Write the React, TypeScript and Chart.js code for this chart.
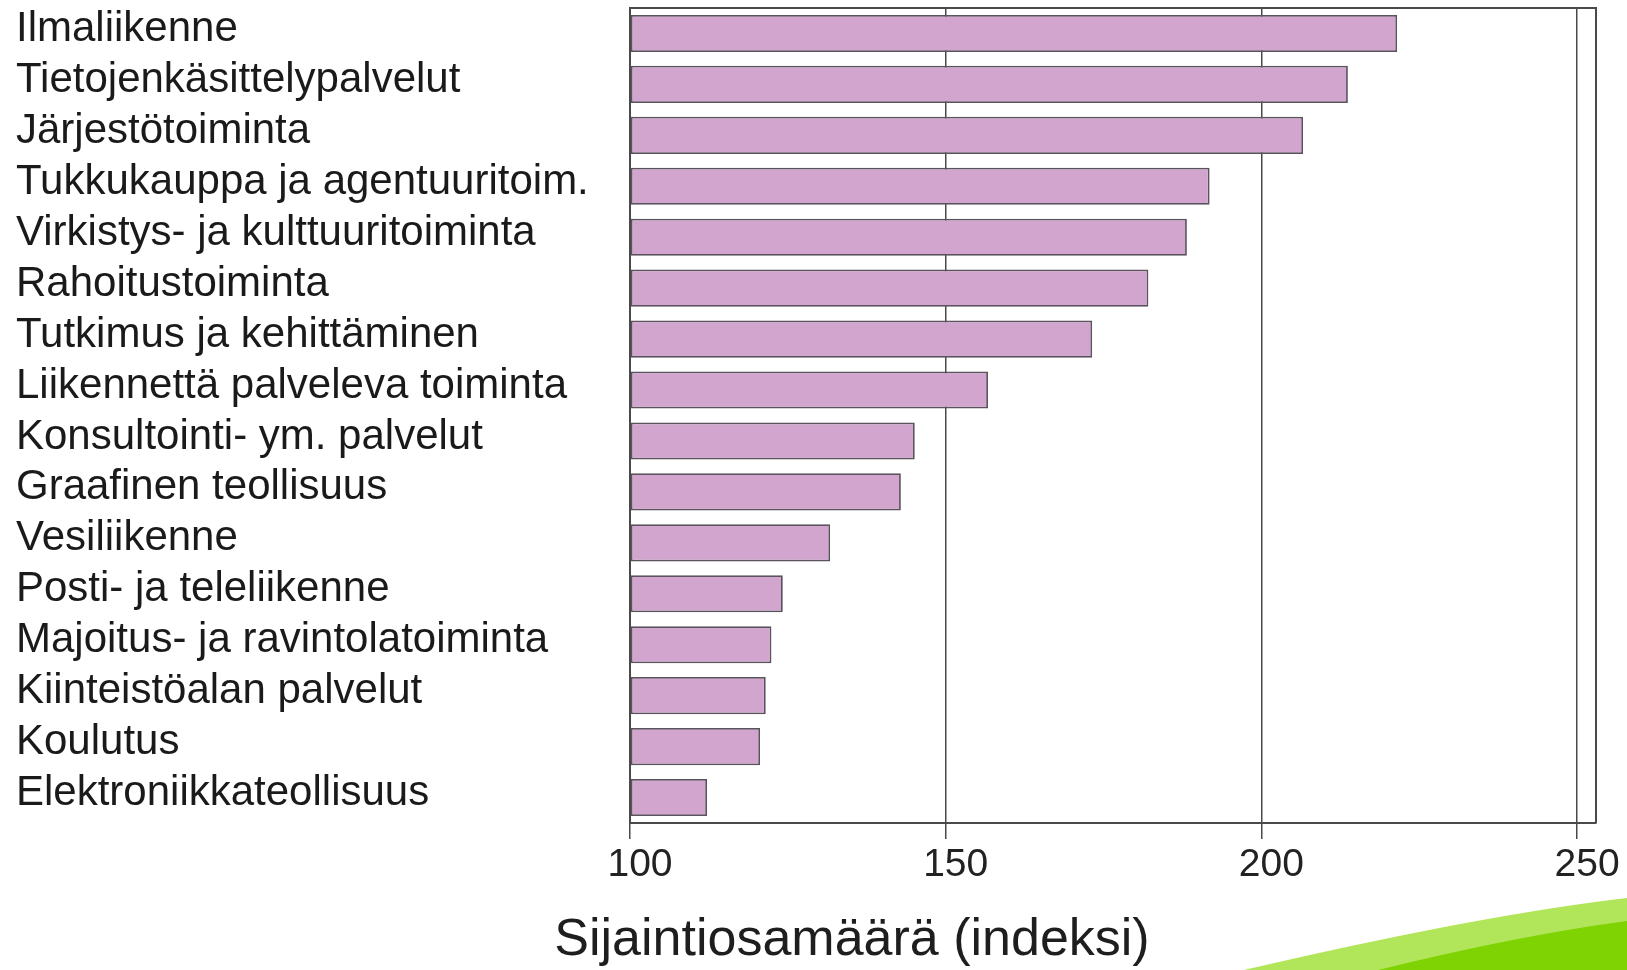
import { useEffect, useRef } from 'react';
import { Chart, registerables } from 'chart.js';

Chart.register(...registerables);

const categories: string[] = [
  'Ilmaliikenne',
  'Tietojenkäsittelypalvelut',
  'Järjestötoiminta',
  'Tukkukauppa ja agentuuritoim.',
  'Virkistys- ja kulttuuritoiminta',
  'Rahoitustoiminta',
  'Tutkimus ja kehittäminen',
  'Liikennettä palveleva toiminta',
  'Konsultointi- ym. palvelut',
  'Graafinen teollisuus',
  'Vesiliikenne',
  'Posti- ja teleliikenne',
  'Majoitus- ja ravintolatoiminta',
  'Kiinteistöalan palvelut',
  'Koulutus',
  'Elektroniikkateollisuus',
];

const values: number[] = [
  221.5, 213.7, 206.6, 191.8, 188.2, 182.1, 173.2, 156.7,
  145.1, 142.9, 131.7, 124.2, 122.4, 121.5, 120.6, 112.2,
];

const xMin = 100;
const xMax = 253;
const xStep = 50;
const axisTitle = 'Sijaintiosamäärä (indeksi)';

const FONT = "'Liberation Sans', Arial, sans-serif";

export default function App() {
  const ref = useRef<HTMLCanvasElement>(null);

  useEffect(() => {
    if (!ref.current) return;

    const framePlugin = {
      id: 'frame',
      afterDatasetsDraw(chart: any) {
        const { ctx, chartArea: a } = chart;
        ctx.save();
        ctx.strokeStyle = '#4a4a4a';
        ctx.lineWidth = 2;
        ctx.beginPath();
        ctx.moveTo(a.left, a.top);
        ctx.lineTo(a.right, a.top);
        ctx.lineTo(a.right, a.bottom);
        ctx.stroke();
        ctx.restore();
      },
    };

    const titlePlugin = {
      id: 'xtitle',
      afterDraw(chart: any) {
        const { ctx } = chart;
        ctx.save();
        ctx.fillStyle = '#1e1e1e';
        ctx.font = `52px ${FONT}`;
        ctx.textAlign = 'center';
        ctx.textBaseline = 'middle';
        ctx.fillText(axisTitle, 852, 941);
        ctx.restore();
      },
    };

    const swooshPlugin = {
      id: 'swoosh',
      afterDraw(chart: any) {
        const { ctx, width, height } = chart;
        ctx.save();
        ctx.fillStyle = '#b2e65a';
        ctx.beginPath();
        ctx.moveTo(1244, height);
        ctx.quadraticCurveTo(1480, 915, width, 898);
        ctx.lineTo(width, height);
        ctx.closePath();
        ctx.fill();
        ctx.fillStyle = '#7fd302';
        ctx.beginPath();
        ctx.moveTo(1378, height);
        ctx.quadraticCurveTo(1520, 935, width, 921);
        ctx.lineTo(width, height);
        ctx.closePath();
        ctx.fill();
        ctx.restore();
      },
    };

    const chart = new Chart(ref.current, {
      type: 'bar',
      data: {
        labels: categories,
        datasets: [
          {
            data: values,
            base: xMin,
            backgroundColor: '#d1a5cd',
            borderColor: '#5a525c',
            borderWidth: 1.8,
            borderSkipped: false,
            barPercentage: 0.73,
            categoryPercentage: 1,
          } as any,
        ],
      },
      options: {
        indexAxis: 'y',
        responsive: true,
        maintainAspectRatio: false,
        animation: false,
        layout: { padding: { left: 16, right: 31, top: 8, bottom: 0 } },
        plugins: {
          legend: { display: false },
          tooltip: { enabled: false },
        },
        scales: {
          x: {
            min: xMin,
            max: xMax,
            afterFit: (s: any) => {
              s.height = 147;
              s.paddingLeft = 0;
              s.paddingRight = 0;
            },
            ticks: {
              stepSize: xStep,
              includeBounds: false,
              color: '#222',
              font: { family: FONT, size: 39 },
              padding: 3,
              labelOffset: 10,
              maxRotation: 0,
            },
            grid: {
              color: '#4a4a4a',
              lineWidth: 1.5,
              drawTicks: true,
              tickLength: 16,
              tickColor: '#4a4a4a',
            },
            border: { display: true, color: '#4a4a4a', width: 2 },
          },
          y: {
            afterFit: (s: any) => {
              s.width = 614;
              s.paddingTop = 0;
              s.paddingBottom = 0;
            },
            ticks: {
              crossAlign: 'far',
              color: '#1a1a1a',
              font: { family: FONT, size: 42 },
              labelOffset: -4,
              autoSkip: false,
            },
            grid: { display: false },
            border: { display: true, color: '#4a4a4a', width: 2 },
          },
        },
      },
      plugins: [framePlugin, titlePlugin, swooshPlugin],
    });

    return () => chart.destroy();
  }, []);

  return (
    <div
      style={{
        position: 'fixed',
        left: 0,
        top: 0,
        width: 1627,
        height: 970,
        background: '#fff',
      }}
    >
      <canvas ref={ref} />
    </div>
  );
}
